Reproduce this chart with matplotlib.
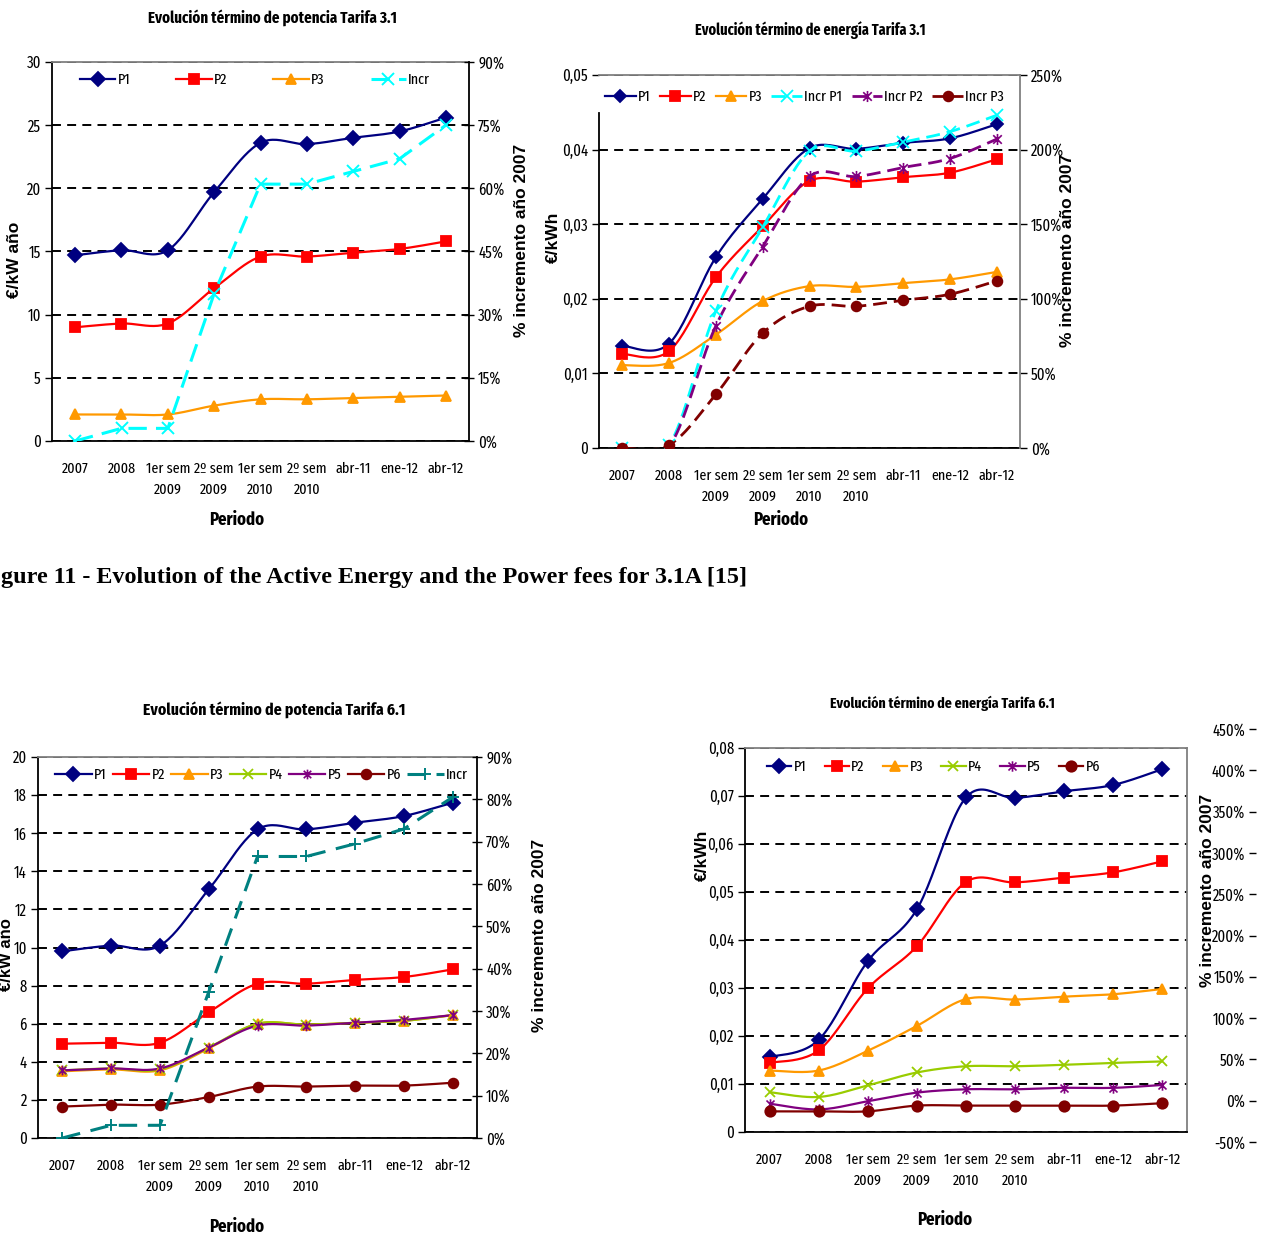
import numpy as np
import matplotlib
matplotlib.use("Agg")
import matplotlib.pyplot as plt
from matplotlib.lines import Line2D
from matplotlib.path import Path
from matplotlib.ticker import FuncFormatter

# ---------------------------------------------------------------- data
periods = ['2007', '2008', '1er sem\n2009', '2º sem\n2009', '1er sem\n2010',
           '2º sem\n2010', 'abr-11', 'ene-12', 'abr-12']

# Tarifa 3.1 - término de potencia (€/kW año) and % increase over 2007
pot31_p1 = [14.7, 15.1, 15.1, 19.7, 23.6, 23.5, 24.0, 24.5, 25.6]
pot31_p2 = [9.0, 9.3, 9.3, 12.1, 14.6, 14.6, 14.9, 15.2, 15.8]
pot31_p3 = [2.1, 2.1, 2.1, 2.8, 3.3, 3.3, 3.4, 3.5, 3.6]
pot31_incr = [0, 3, 3, 35, 61, 61, 64, 67, 75]

# Tarifa 3.1 - término de energía (€/kWh) and % increase over 2007
ene31_p1 = [0.0137, 0.0140, 0.0256, 0.0334, 0.0402, 0.0401, 0.0409, 0.0415, 0.0434]
ene31_p2 = [0.0126, 0.0130, 0.0229, 0.0297, 0.0358, 0.0357, 0.0363, 0.0369, 0.0387]
ene31_p3 = [0.0111, 0.0114, 0.0152, 0.0197, 0.0217, 0.0216, 0.0221, 0.0226, 0.0236]
ene31_incr_p1 = [0, 2, 92, 148, 199, 199, 205, 212, 223]
ene31_incr_p2 = [0, 1, 82, 135, 182, 182, 188, 194, 207]
ene31_incr_p3 = [0, 2, 36, 77, 95, 95, 99, 103, 112]

# Tarifa 6.1 - término de potencia (€/kW año) and % increase over 2007
pot61_p1 = [9.8, 10.1, 10.1, 13.05, 16.2, 16.2, 16.55, 16.9, 17.6]
pot61_p2 = [4.95, 5.0, 5.0, 6.6, 8.1, 8.1, 8.3, 8.45, 8.85]
pot61_p3 = [3.5, 3.6, 3.55, 4.7, 6.0, 5.95, 6.05, 6.15, 6.45]
pot61_p4 = [3.55, 3.65, 3.6, 4.75, 6.0, 5.95, 6.05, 6.15, 6.45]
pot61_p5 = [3.55, 3.65, 3.65, 4.75, 5.9, 5.9, 6.05, 6.2, 6.45]
pot61_p6 = [1.65, 1.75, 1.75, 2.15, 2.7, 2.7, 2.75, 2.75, 2.9]
pot61_incr = [0, 3, 3, 34.5, 66.5, 66.5, 69.5, 73, 80.5]

# Tarifa 6.1 - término de energía (€/kWh)
ene61_p1 = [0.0156, 0.0192, 0.0356, 0.0464, 0.0697, 0.0696, 0.0710, 0.0723, 0.0756]
ene61_p2 = [0.0144, 0.0170, 0.0299, 0.0387, 0.0521, 0.0520, 0.0530, 0.0541, 0.0564]
ene61_p3 = [0.0128, 0.0128, 0.0169, 0.0221, 0.0277, 0.0276, 0.0282, 0.0287, 0.0298]
ene61_p4 = [0.0083, 0.0073, 0.0097, 0.0124, 0.0137, 0.0137, 0.0140, 0.0144, 0.0147]
ene61_p5 = [0.0059, 0.0047, 0.0064, 0.0082, 0.0089, 0.0089, 0.0092, 0.0092, 0.0098]
ene61_p6 = [0.0043, 0.0043, 0.0043, 0.0055, 0.0055, 0.0055, 0.0055, 0.0055, 0.0060]

# ---------------------------------------------------------------- style
NAVY, RED, ORANGE = '#000080', '#FF0000', '#FF9900'
CYAN, PURPLE, DARKRED = '#00FFFF', '#800080', '#800000'
GREEN, TEAL, GRAY = '#99CC00', '#008080', '#808080'

NARROW = ['Fira Sans Extra Condensed', 'PT Sans Narrow', 'DejaVu Sans']
WIDE = ['Liberation Sans', 'DejaVu Sans']
plt.rcParams['font.family'] = NARROW
plt.rcParams['axes.unicode_minus'] = False

STAR = Path([(-1, -1), (1, 1), (-1, 1), (1, -1), (0, -1.3), (0, 1.3)],
            [Path.MOVETO, Path.LINETO] * 3)

W, H = 1269, 1234
fig = plt.figure(figsize=(W / 100, H / 100), dpi=100)
XTICK_FS = 11
YTICK_FS = 11.5


def rect(l, t, r, b):
    return [l / W, 1 - b / H, (r - l) / W, (b - t) / H]


def fx(x):
    return x / W


def fy(y):
    return 1 - y / H


def smooth_curve(vals, n=24):
    """Bezier smoothing through the points (spreadsheet style smoothed line)."""
    pts = np.column_stack([np.arange(len(vals), dtype=float), np.asarray(vals, float)])
    out = [pts[0]]
    t = np.linspace(0, 1, n)[1:, None]
    for i in range(len(pts) - 1):
        p0 = pts[i - 1] if i > 0 else pts[i]
        p1, p2 = pts[i], pts[i + 1]
        p3 = pts[i + 2] if i + 2 < len(pts) else pts[i + 1]
        c1 = p1 + (p2 - p0) / 6
        c2 = p2 - (p3 - p1) / 6
        seg = (1 - t) ** 3 * p1 + 3 * (1 - t) ** 2 * t * c1 + 3 * (1 - t) * t ** 2 * c2 + t ** 3 * p2
        out.extend(seg)
    out = np.array(out)
    return out[:, 0], out[:, 1]


def draw_series(ax, vals, color, marker, ms, label, lw=1.6, ls='-',
                smooth=True, mew=1.3):
    if smooth:
        xs, ys = smooth_curve(vals)
    else:
        xs, ys = np.arange(len(vals)), vals
    ax.plot(xs, ys, color=color, lw=lw, ls=ls, zorder=3, solid_capstyle='butt')
    ax.plot(np.arange(len(vals)), vals, ls='none', marker=marker, ms=ms,
            mfc=color, mec=color, mew=mew, zorder=4)
    return Line2D([], [], color=color, lw=lw, ls=ls, marker=marker, ms=ms,
                  mfc=color, mec=color, mew=mew, label=label)


def base_axes(l, t, r, b, yticks, fmt):
    ax = fig.add_axes(rect(l, t, r, b))
    ax.set_xlim(-0.5, len(periods) - 0.5)
    ax.set_ylim(yticks[0], yticks[-1])
    ax.set_xticks(range(len(periods)))
    ax.set_xticklabels(periods, fontsize=XTICK_FS)
    for lbl in ax.get_xticklabels():
        lbl.set_linespacing(1.55)
    ax.tick_params(axis='x', length=0, pad=15)
    ax.set_yticks(yticks)
    ax.yaxis.set_major_formatter(FuncFormatter(fmt))
    ax.tick_params(axis='y', direction='out', length=5, width=1, pad=3,
                   labelsize=YTICK_FS, color='black')
    ax.set_axisbelow(True)
    ax.yaxis.grid(True, color='black', lw=1.4, ls=(0, (4.6, 3.2)))
    for s in ('left', 'bottom'):
        ax.spines[s].set_color('black')
        ax.spines[s].set_linewidth(1.3)
    for s in ('top', 'right'):
        ax.spines[s].set_color(GRAY)
        ax.spines[s].set_linewidth(1.3)
    return ax


def right_axes(ax, lo, hi, step, spine_color, direction):
    ax2 = ax.twinx()
    ax2.set_ylim(lo, hi)
    ax2.set_yticks(np.arange(lo, hi + step / 2, step))
    ax2.yaxis.set_major_formatter(FuncFormatter(lambda v, p: f'{v:.0f}%'))
    ax2.tick_params(axis='y', direction=direction, length=7 if direction == 'inout' else 5,
                    width=1, labelsize=YTICK_FS, pad=3)
    for s in ('left', 'top', 'bottom'):
        ax2.spines[s].set_visible(False)
    ax2.spines['right'].set_color(spine_color)
    ax2.spines['right'].set_linewidth(1.3)
    ax.spines['right'].set_visible(False)
    return ax2


def legend(ax, handles, x0, x1, yc, hl, fs=11):
    h = 20
    leg = ax.legend(handles=handles, ncol=len(handles), mode='expand',
                    bbox_to_anchor=(fx(x0), fy(yc + h / 2), (x1 - x0) / W, h / H),
                    bbox_transform=fig.transFigure, loc='center', frameon=False,
                    fontsize=fs, handlelength=hl, handletextpad=0.15,
                    borderpad=0, borderaxespad=0, numpoints=1, columnspacing=0.5)
    leg.set_zorder(10)
    return leg


def fit_text(txt, width_px):
    fig.canvas.draw()
    w = txt.get_window_extent(renderer=fig.canvas.get_renderer()).width
    txt.set_fontsize(txt.get_fontsize() * width_px / w)


def int_fmt(v, p):
    return f'{v:.0f}'


def comma_fmt(v, p):
    return '0' if abs(v) < 1e-12 else f'{v:.2f}'.replace('.', ',')


def labels(title, tx, ty, tw, ylab, ylx, yly, rlab, rlx, rly, px, py, yfs=12.5):
    t = fig.text(fx(tx), fy(ty), title, ha='center', va='center',
                 fontsize=12, fontweight='bold')
    fit_text(t, tw)
    fig.text(fx(ylx), fy(yly), ylab, rotation=90, ha='center', va='center',
             fontsize=yfs, fontweight='bold', family=WIDE)
    fig.text(fx(rlx), fy(rly), rlab, rotation=90, ha='center', va='center',
             fontsize=12.5, fontweight='bold', family=WIDE)
    fig.text(fx(px), fy(py), 'Periodo', ha='center', va='center',
             fontsize=13, fontweight='bold')


# ---------------------------------------------------------------- Tarifa 3.1 potencia
ax1 = base_axes(52, 62, 469, 441, np.arange(0, 31, 5), int_fmt)
ax1b = right_axes(ax1, 0, 90, 15, 'black', 'inout')
h1 = [draw_series(ax1, pot31_p1, NAVY, 'D', 7, 'P1'),
      draw_series(ax1, pot31_p2, RED, 's', 6.5, 'P2'),
      draw_series(ax1, pot31_p3, ORANGE, '^', 7, 'P3')]
h1.append(draw_series(ax1b, pot31_incr, CYAN, 'x', 8, 'Incr', lw=2.2,
                      ls=(0, (6, 3)), smooth=False, mew=1.4))
legend(ax1b, h1, 80, 430, 80, 2.3)
labels('Evolución término de potencia Tarifa 3.1', 272, 18, 249,
       '€/kW año', 15, 260, '% incremento año 2007', 521, 240, 237, 520)

# ---------------------------------------------------------------- Tarifa 3.1 energía
ax2 = base_axes(599, 75, 1020, 448, np.arange(0, 0.0501, 0.01), comma_fmt)
ax2.spines['left'].set_bounds(0, 0.0449)
ax2b = right_axes(ax2, 0, 250, 50, GRAY, 'out')
h2 = [draw_series(ax2, ene31_p1, NAVY, 'D', 6.5, 'P1'),
      draw_series(ax2, ene31_p2, RED, 's', 6.5, 'P2'),
      draw_series(ax2, ene31_p3, ORANGE, '^', 7, 'P3')]
h2.append(draw_series(ax2b, ene31_incr_p1, CYAN, 'x', 8, 'Incr P1', lw=2.0,
                      ls=(0, (5, 2.5)), mew=1.3))
h2.append(draw_series(ax2b, ene31_incr_p2, PURPLE, STAR, 8, 'Incr P2', lw=2.0,
                      ls=(0, (5, 2.5)), mew=1.2))
h2.append(draw_series(ax2b, ene31_incr_p3, DARKRED, 'o', 7, 'Incr P3', lw=2.0,
                      ls=(0, (5, 2.5))))
legend(ax2b, h2, 605, 1004, 97, 2.0)
labels('Evolución término de energía Tarifa 3.1', 810, 30, 231,
       '€/kWh', 553, 237, '% incremento año 2007', 1068, 250, 781, 520)

# ---------------------------------------------------------------- Tarifa 6.1 potencia
ax3 = base_axes(38, 757, 477, 1138, np.arange(0, 21, 2), int_fmt)
ax3b = right_axes(ax3, 0, 90, 10, 'black', 'inout')
h3 = [draw_series(ax3, pot61_p1, NAVY, 'D', 7, 'P1'),
      draw_series(ax3, pot61_p2, RED, 's', 6.5, 'P2'),
      draw_series(ax3, pot61_p3, ORANGE, '^', 7, 'P3'),
      draw_series(ax3, pot61_p4, GREEN, 'x', 7, 'P4', mew=1.3),
      draw_series(ax3, pot61_p5, PURPLE, STAR, 7, 'P5', mew=1.2),
      draw_series(ax3, pot61_p6, DARKRED, 'o', 7, 'P6')]
h3.append(draw_series(ax3b, pot61_incr, TEAL, '+', 9, 'Incr', lw=2.2,
                      ls=(0, (6, 3.5)), smooth=False, mew=1.4))
legend(ax3b, h3, 55, 468, 775, 2.4)
labels('Evolución término de potencia Tarifa 6.1', 274, 710, 262,
       '€/kW año', 7, 955, '% incremento año 2007', 539, 935, 237, 1227, yfs=12)

# ---------------------------------------------------------------- Tarifa 6.1 energía
ax4 = base_axes(745, 748, 1187, 1132, np.arange(0, 0.0801, 0.01), comma_fmt)
h4 = [draw_series(ax4, ene61_p1, NAVY, 'D', 7, 'P1'),
      draw_series(ax4, ene61_p2, RED, 's', 7, 'P2'),
      draw_series(ax4, ene61_p3, ORANGE, '^', 7.5, 'P3'),
      draw_series(ax4, ene61_p4, GREEN, 'x', 7.5, 'P4', mew=1.3),
      draw_series(ax4, ene61_p5, PURPLE, STAR, 7.5, 'P5', mew=1.2),
      draw_series(ax4, ene61_p6, DARKRED, 'o', 7.5, 'P6')]
legend(ax4, h4, 767, 1100, 767, 1.6)

# secondary percentage scale standing on its own to the right
ax4b = fig.add_axes(rect(1256, 729, 1257, 1142))
ax4b.set_ylim(-50, 450)
ax4b.set_yticks(np.arange(-50, 451, 50))
ax4b.yaxis.set_major_formatter(FuncFormatter(lambda v, p: f'{v:.0f}%'))
ax4b.tick_params(axis='y', direction='out', length=5, width=1, labelsize=YTICK_FS, pad=3)
ax4b.set_xticks([])
ax4b.patch.set_visible(False)
for s in ax4b.spines.values():
    s.set_visible(False)

labels('Evolución término de energía Tarifa 6.1', 942, 703, 225,
       '€/kWh', 702, 855, '% incremento año 2007', 1207, 890, 945, 1220)

# ---------------------------------------------------------------- caption
cap = fig.text(fx(1), fy(578), 'gure 11 - Evolution of the Active Energy and the Power fees for 3.1A [15]',
               ha='left', va='center', fontsize=15, fontweight='bold',
               family=['Liberation Serif', 'DejaVu Serif'])
fit_text(cap, 747)

fig.savefig('out.png', dpi=100, facecolor='white')
